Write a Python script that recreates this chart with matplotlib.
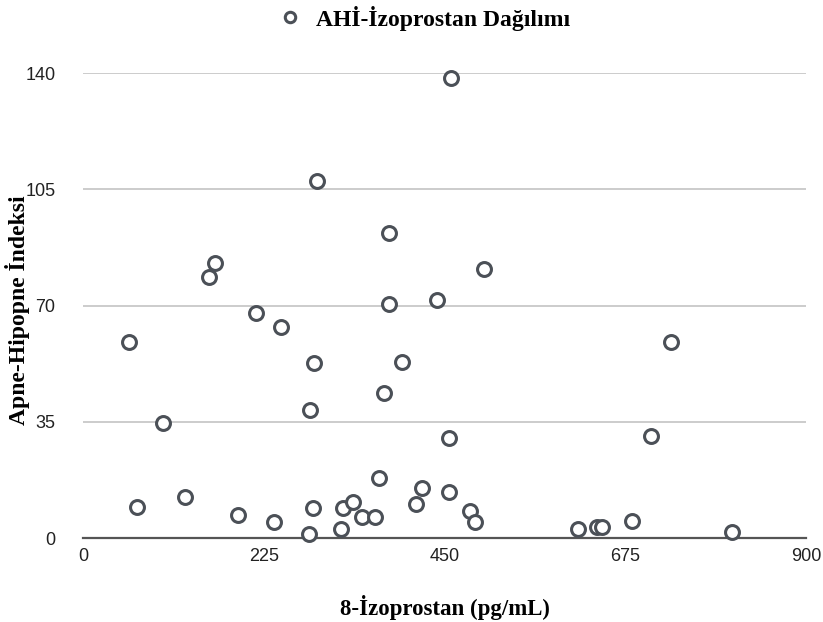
import numpy as np
import matplotlib
matplotlib.use('Agg')
import matplotlib.pyplot as plt

# 8-isoprostane (pg/mL) vs AHI
izoprostan = [457.7, 290.9, 381.3, 164.3, 156.5, 499.2, 215.0, 381.3, 441.1, 246.0,
              57.6, 731.5, 287.9, 396.6, 375.0, 282.6, 99.2, 455.4, 706.6, 368.5,
              422.4, 455.9, 127.0, 67.6, 192.6, 238.1, 286.7, 324.0, 335.7, 347.3,
              363.5, 414.5, 281.7, 321.2, 481.8, 488.0, 616.6, 640.2, 645.7, 683.8,
              807.6]
ahi = [138.4, 107.6, 91.7, 82.9, 78.7, 81.0, 67.8, 70.5, 71.7, 63.6,
       59.1, 58.9, 52.8, 53.1, 43.6, 38.5, 34.5, 30.2, 30.8, 18.0,
       15.1, 13.9, 12.3, 9.4, 6.8, 4.7, 8.9, 9.1, 10.8, 6.4,
       6.2, 10.1, 1.1, 2.6, 8.1, 4.7, 2.6, 3.2, 3.2, 5.2,
       1.8]
X_TICKS = [0, 225, 450, 675, 900]
Y_TICKS = [0, 35, 70, 105, 140]

SERIF = ['Liberation Serif', 'DejaVu Serif']
SANS = ['Liberation Sans', 'DejaVu Sans']
DARK = '#4b5057'

fig = plt.figure(figsize=(8.23, 6.22), dpi=100)
ax = fig.add_axes([0.1009, 0.135, 0.8785, 0.7476])

ax.plot(izoprostan, ahi, linestyle='none', marker='o', markersize=10,
        markerfacecolor='white', markeredgecolor=DARK, markeredgewidth=2.2,
        clip_on=False, zorder=3, label='AHİ-İzoprostan Dağılımı')

ax.set_xlim(0, 900)
ax.set_ylim(0, 140)
ax.set_xticks(X_TICKS)
ax.set_yticks(Y_TICKS)
ax.yaxis.grid(True, color='#c8c8c8', linewidth=1.3)
ax.set_axisbelow(True)

for s in ['top', 'right', 'left']:
    ax.spines[s].set_visible(False)
ax.spines['bottom'].set_color('#555555')
ax.spines['bottom'].set_linewidth(1.6)
ax.spines['bottom'].set_zorder(2)

ax.tick_params(axis='both', length=0, labelsize=13, colors='#222222')
ax.tick_params(axis='y', pad=20)
ax.tick_params(axis='x', pad=7)
for lbl in ax.get_xticklabels() + ax.get_yticklabels():
    lbl.set_family(SANS)

ax.set_xlabel('8-İzoprostan (pg/mL)', family=SERIF, fontweight='bold', fontsize=16.5)
ax.set_ylabel('Apne-Hipopne İndeksi', family=SERIF, fontweight='bold', fontsize=17)
ax.xaxis.set_label_coords(0.5, -0.1226)
ax.yaxis.set_label_coords(-0.073, 0.49)

fig.legend(loc='upper center', bbox_to_anchor=(0.514, 1.025), frameon=False,
           prop={'family': SERIF, 'weight': 'bold', 'size': 17},
           handletextpad=0.5, handlelength=1.2, markerscale=0.75)

plt.savefig('out.png', dpi=100)
